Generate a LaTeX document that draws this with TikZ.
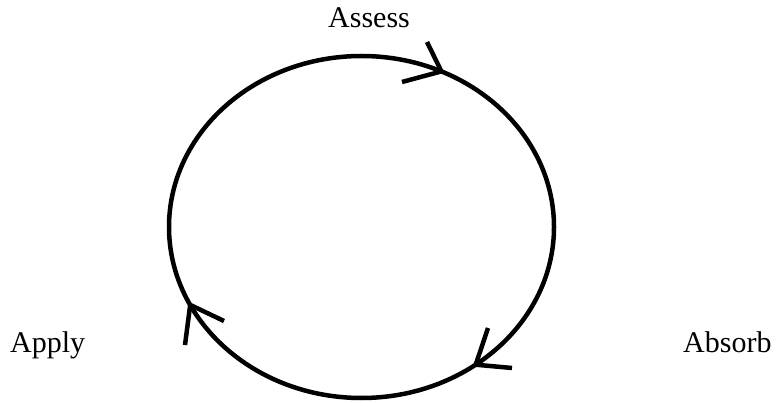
\documentclass[tikz,border=0pt]{standalone}
\usepackage{fontspec}
\setmainfont{Liberation Serif}
\begin{document}
\begin{tikzpicture}[x=1pt,y=-1pt,
  lbl/.style={inner sep=0pt,anchor=base west,font=\fontsize{30}{36}\selectfont},
  loopline/.style={line width=4.5pt,black},
  barb/.style={line width=4.5pt,black,line join=miter,line cap=butt}]
\useasboundingbox (0,0) rectangle (776,403);
\coordinate (c) at (361.5,227);
\draw[loopline] (c) ellipse [x radius=192.5pt, y radius=171pt];
% arrow tips on the loop (clockwise)
\coordinate (tA) at (441.4,71.4);
\coordinate (tB) at (475.7,364.7);
\coordinate (tC) at (190.2,304.9);
\draw[barb] (427,42) -- (tA) -- (402,82);
\draw[barb] (488,328) -- (tB) -- (512,368);
\draw[barb] (185,345) -- (tC) -- (224,321);
% labels
\node[lbl] (assess) at (328,28) {Assess};
\node[lbl] (apply) at (10,352) {Apply};
\node[lbl] (absorb) at (683,352) {Absorb};
\end{tikzpicture}
\end{document}
